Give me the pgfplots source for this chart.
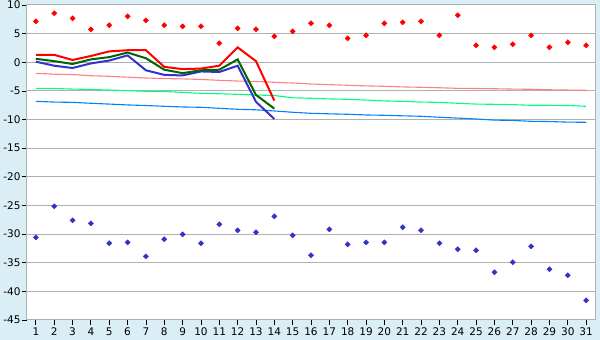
\documentclass[border=0pt]{standalone}
\usepackage{pgfplots}
\pgfplotsset{compat=1.18}
\usepackage{pgfplotstable}
\usepackage{fontspec}
\setmainfont{DejaVu Sans}
\definecolor{bgblue}{RGB}{218,238,245}
\definecolor{gridgray}{RGB}{176,176,176}
\definecolor{recred}{RGB}{255,0,0}
\definecolor{recblue}{RGB}{51,51,204}
\definecolor{thkgreen}{RGB}{0,102,0}
\definecolor{npink}{RGB}{255,128,128}
\definecolor{ngreen}{RGB}{0,255,128}
\definecolor{nblue}{RGB}{0,128,255}

\pgfplotstableread{
d max min
1 7.15 -30.56
2 8.55 -25.15
3 7.67 -27.6
4 5.75 -28.12
5 6.45 -31.6
6 8.02 -31.45
7 7.32 -33.88
8 6.45 -30.91
9 6.28 -30.04
10 6.28 -31.6
11 3.31 -28.3
12 5.93 -29.34
13 5.75 -29.69
14 4.53 -26.9
15 5.4 -30.21
16 6.8 -33.71
17 6.45 -29.17
18 4.18 -31.79
19 4.7 -31.45
20 6.8 -31.45
21 6.97 -28.82
22 7.15 -29.34
23 4.7 -31.6
24 8.2 -32.66
25 2.96 -32.83
26 2.61 -36.67
27 3.13 -34.93
28 4.7 -32.13
29 2.61 -36.15
30 3.48 -37.2
31 2.96 -41.56
}\records

\pgfplotstableread{
d pink green blue
1 -1.93 -4.55 -6.82
2 -2.08 -4.58 -6.95
3 -2.15 -4.68 -7.0
4 -2.35 -4.75 -7.16
5 -2.45 -4.85 -7.3
6 -2.6 -4.95 -7.45
7 -2.75 -5.07 -7.55
8 -2.85 -5.1 -7.69
9 -2.9 -5.25 -7.8
10 -3.0 -5.42 -7.86
11 -3.15 -5.5 -8.04
12 -3.28 -5.6 -8.21
13 -3.35 -5.72 -8.3
14 -3.5 -5.8 -8.5
15 -3.62 -6.2 -8.73
16 -3.8 -6.29 -8.91
17 -3.9 -6.4 -9.0
18 -4.02 -6.47 -9.08
19 -4.12 -6.6 -9.2
20 -4.2 -6.75 -9.26
21 -4.3 -6.82 -9.35
22 -4.37 -6.95 -9.43
23 -4.45 -7.0 -9.6
24 -4.55 -7.16 -9.75
25 -4.58 -7.3 -9.9
26 -4.62 -7.34 -10.1
27 -4.68 -7.4 -10.15
28 -4.72 -7.51 -10.31
29 -4.8 -7.51 -10.35
30 -4.85 -7.55 -10.45
31 -4.89 -7.69 -10.48
}\normals

\pgfplotstableread{
d red green blue
1 1.3 0.6 0.1
2 1.3 0.2 -0.6
3 0.4 -0.3 -1.0
4 1.1 0.5 -0.2
5 1.9 0.9 0.3
6 2.1 1.7 1.2
7 2.1 0.7 -1.4
8 -0.8 -1.3 -2.2
9 -1.2 -1.9 -2.3
10 -1.1 -1.4 -1.6
11 -0.6 -1.3 -1.7
12 2.6 0.5 -0.6
13 0.2 -5.7 -6.9
14 -6.7 -8.1 -9.9
}\current

\begin{document}
\begin{tikzpicture}[x=1pt,y=1pt]
\fill[bgblue] (0,0) rectangle (600,340);
\useasboundingbox (0,0) rectangle (600,340);
\begin{axis}[
  at={(26.7pt,20pt)}, anchor=south west,
  scale only axis, width=568.6pt, height=315pt,
  xmin=0.5, xmax=31.5, ymin=-45, ymax=10,
  xtick={1,...,31}, ytick={-45,-40,...,10},
  axis background/.style={fill=white},
  axis line style={draw=gridgray, line width=1pt},
  ymajorgrids, grid style={gridgray, line width=1pt},
  tick align=outside, major tick length=5pt,
  tick style={black, line width=0.8pt},
  xtick pos=bottom, ytick pos=left,
  tick label style={font=\fontsize{10.5}{12}\selectfont},
  /pgf/number format/assume math mode=true,
  yticklabel style={inner sep=1pt},
  xticklabel style={inner sep=1pt, yshift=-2pt},
  clip=false,
]
\addplot[npink, line width=1.1pt] table[x=d,y=pink] {\normals};
\addplot[ngreen, line width=1.1pt] table[x=d,y=green] {\normals};
\addplot[nblue, line width=1.1pt] table[x=d,y=blue] {\normals};
\addplot[recblue, line width=2pt] table[x=d,y=blue] {\current};
\addplot[thkgreen, line width=2pt] table[x=d,y=green] {\current};
\addplot[recred, line width=2pt] table[x=d,y=red] {\current};
\addplot[only marks, mark=diamond*, mark size=2.6pt, recred, mark options={fill=recred, draw=recred, xscale=1.33}] table[x=d,y=max] {\records};
\addplot[only marks, mark=diamond*, mark size=2.6pt, recblue, mark options={fill=recblue, draw=recblue, xscale=1.33}] table[x=d,y=min] {\records};
\end{axis}
\end{tikzpicture}
\end{document}
